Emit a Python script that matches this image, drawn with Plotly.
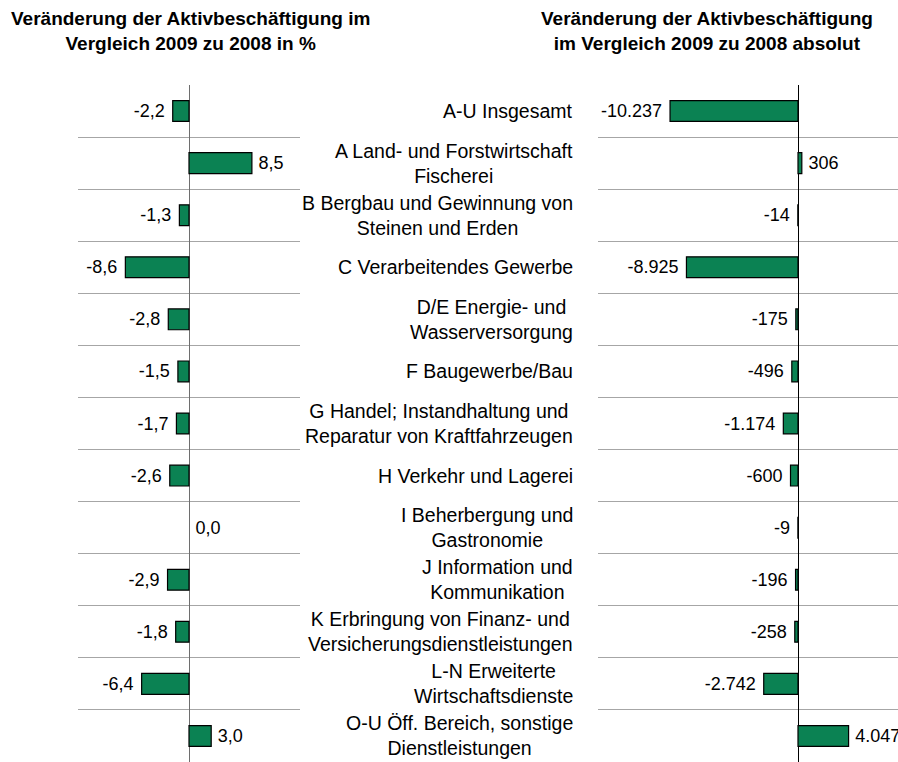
import plotly.graph_objects as go

# Sektoren (Reihenfolge wie im Original, von oben nach unten)
sektoren = [
    "A-U Insgesamt",
    "A Land- und Forstwirtschaft<br>Fischerei",
    "B Bergbau und Gewinnung von<br>Steinen und Erden",
    "C Verarbeitendes Gewerbe",
    "D/E Energie- und<br>Wasserversorgung",
    "F Baugewerbe/Bau",
    "G Handel; Instandhaltung und<br>Reparatur von Kraftfahrzeugen",
    "H Verkehr und Lagerei",
    "I Beherbergung und<br>Gastronomie",
    "J Information und<br>Kommunikation",
    "K Erbringung von Finanz- und<br>Versicherungsdienstleistungen",
    "L-N Erweiterte<br>Wirtschaftsdienste",
    "O-U Öff. Bereich, sonstige<br>Dienstleistungen",
]

# Veraenderung 2009 zu 2008 in %
veraenderung_prozent = [-2.2, 8.5, -1.3, -8.6, -2.8, -1.5, -1.7, -2.6, 0.0, -2.9, -1.8, -6.4, 3.0]

# Veraenderung 2009 zu 2008 absolut
veraenderung_absolut = [-10237, 306, -14, -8925, -175, -496, -1174, -600, -9, -196, -258, -2742, 4047]

titel_links = "Veränderung der Aktivbeschäftigung im<br>Vergleich 2009 zu 2008 in %"
titel_rechts = "Veränderung der Aktivbeschäftigung<br>im Vergleich 2009 zu 2008 absolut"

W, H = 898, 762


def px_x(p):
    return p / W


def px_y(p):
    return 1 - p / H


schrift = "Liberation Sans, Arial, sans-serif"
gs = 19.5
ds = 18
gruen = "#0b8253"
nbsp = "\u00a0"
thin = "\u2009"
idx = list(range(len(sektoren)))


def vorlage(werte, fmt):
    # etwas Abstand zwischen Balken und Beschriftung
    return [fmt + nbsp if v < 0 else thin + fmt for v in werte]


def rahmen(werte):
    # Nullwerte ohne Rahmenlinie
    return [0 if v == 0 else 1.2 for v in werte]


fig = go.Figure()

fig.add_trace(go.Bar(
    x=veraenderung_prozent, y=idx, orientation="h",
    xaxis="x", yaxis="y", width=0.4,
    marker=dict(color=gruen, line=dict(color="black", width=rahmen(veraenderung_prozent))),
    texttemplate=vorlage(veraenderung_prozent, "%{x:.1f}"),
    textposition="outside", cliponaxis=False,
    constraintext="none", textfont=dict(size=ds, color="black"),
    showlegend=False, hoverinfo="skip",
))

fig.add_trace(go.Bar(
    x=veraenderung_absolut, y=idx, orientation="h",
    xaxis="x2", yaxis="y2", width=0.4,
    marker=dict(color=gruen, line=dict(color="black", width=rahmen(veraenderung_absolut))),
    texttemplate=vorlage(veraenderung_absolut, "%{x:,.0f}"),
    textposition="outside", cliponaxis=False,
    constraintext="none", textfont=dict(size=ds, color="black"),
    showlegend=False, hoverinfo="skip",
))

yachse = dict(domain=[0, px_y(85)], type="category", autorange="reversed",
              tickson="boundaries", showgrid=True, gridcolor="#a6a6a6", gridwidth=1,
              showticklabels=False, ticks="", zeroline=False, showline=False)

fig.update_layout(
    width=W, height=H,
    margin=dict(l=0, r=0, t=0, b=0),
    plot_bgcolor="white", paper_bgcolor="white",
    separators=",.",
    font=dict(family=schrift, size=gs, color="black"),
    xaxis=dict(domain=[px_x(78), px_x(300)], range=[-15, 15], showgrid=False,
               zeroline=True, zerolinecolor="#6e6e6e", zerolinewidth=1,
               showticklabels=False, ticks="", anchor="y"),
    xaxis2=dict(domain=[px_x(598), 1], range=[-16000, 8000], showgrid=False,
                zeroline=True, zerolinecolor="black", zerolinewidth=1,
                showticklabels=False, ticks="", anchor="y2"),
    yaxis=dict(anchor="x", **yachse),
    yaxis2=dict(anchor="x2", matches="y", **yachse),
)

# Kategorienbeschriftung zwischen den beiden Diagrammen
for i, s in enumerate(sektoren):
    fig.add_annotation(x=px_x(575), xref="paper", y=i, yref="y",
                       text=s, showarrow=False, xanchor="right", yanchor="middle",
                       align="center", font=dict(size=gs))

fig.add_annotation(x=px_x(190), xref="paper", y=px_y(6), yref="paper",
                   text="<b>" + titel_links + "</b>", showarrow=False,
                   xanchor="center", yanchor="top", align="center", font=dict(size=19))
fig.add_annotation(x=px_x(707), xref="paper", y=px_y(6), yref="paper",
                   text="<b>" + titel_rechts + "</b>", showarrow=False,
                   xanchor="center", yanchor="top", align="center", font=dict(size=19))

# Seitenrand entfernen, damit die Figur genau das Fenster fuellt
fig.write_html("out.html", config={"displayModeBar": False},
               post_script="document.body.style.margin='0';document.body.style.overflow='hidden';")
